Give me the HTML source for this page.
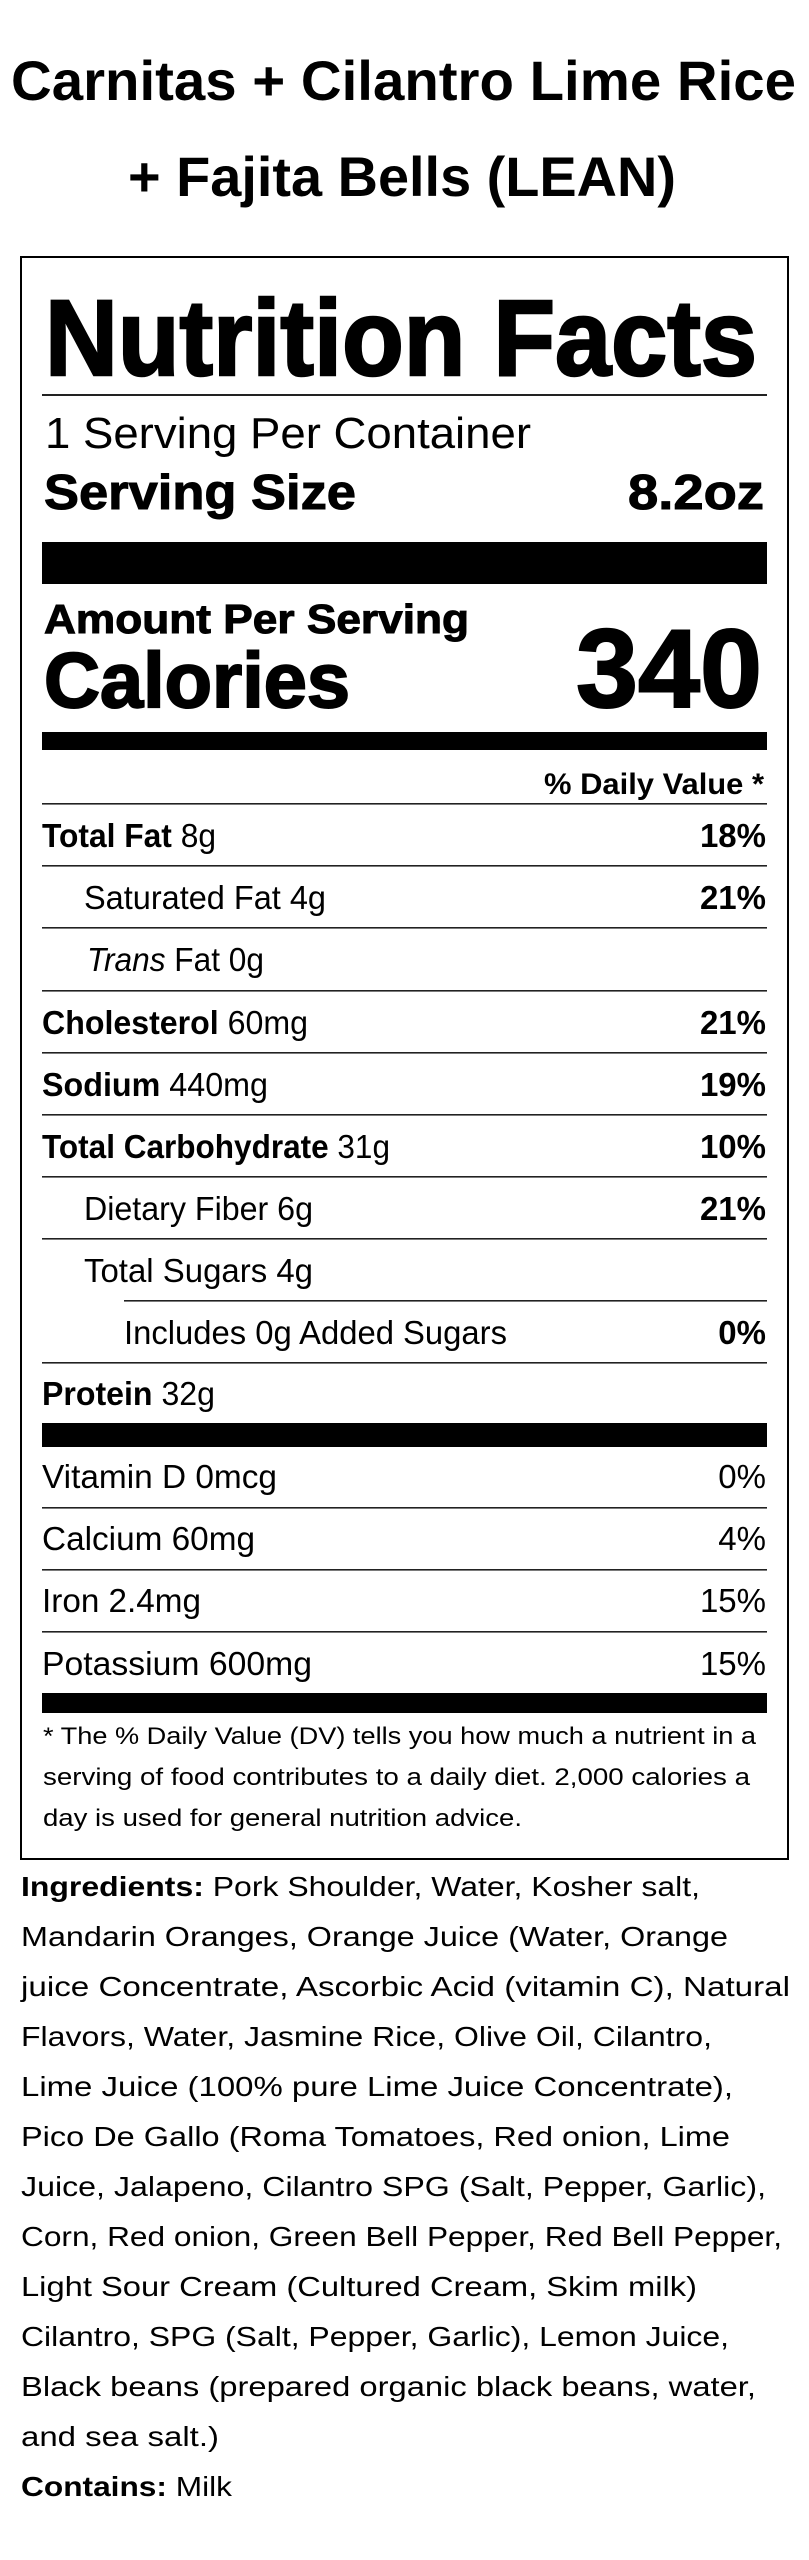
<!DOCTYPE html>
<html><head><meta charset="utf-8"><style>
html,body{margin:0;padding:0;background:#fff;}
svg{display:block;}
text{font-family:"Liberation Sans",Arial,sans-serif;fill:#000;}
.b{font-weight:bold;}
</style></head><body>
<svg width="809" height="2560" viewBox="0 0 809 2560" xmlns="http://www.w3.org/2000/svg">
<rect x="0" y="0" width="809" height="2560" fill="#fff"/>
<!-- Title -->
<text x="11" y="100" font-size="56" class="b" textLength="785" lengthAdjust="spacingAndGlyphs">Carnitas + Cilantro Lime Rice</text>
<text x="128" y="196" font-size="56" class="b" textLength="548" lengthAdjust="spacingAndGlyphs">+ Fajita Bells (LEAN)</text>
<!-- Box -->
<rect x="21" y="257" width="767" height="1602" fill="none" stroke="#000" stroke-width="2"/>
<text x="45" y="375" font-size="108" class="b" stroke="#000" stroke-width="2.5" textLength="712" lengthAdjust="spacingAndGlyphs">Nutrition Facts</text>
<rect x="42" y="394" width="725" height="2" fill="#222"/>
<text x="45" y="448" font-size="44" textLength="486" lengthAdjust="spacingAndGlyphs">1 Serving Per Container</text>
<text x="44" y="509" font-size="49" class="b" stroke="#000" stroke-width="1" textLength="312" lengthAdjust="spacingAndGlyphs">Serving Size</text>
<text x="764" y="509" font-size="49" class="b" stroke="#000" stroke-width="1" text-anchor="end" textLength="136" lengthAdjust="spacingAndGlyphs">8.2oz</text>
<rect x="42" y="542" width="725" height="42" fill="#000"/>
<text x="44" y="633" font-size="41" class="b" stroke="#000" stroke-width="1" textLength="425" lengthAdjust="spacingAndGlyphs">Amount Per Serving</text>
<text x="44" y="707" font-size="78" class="b" stroke="#000" stroke-width="2" textLength="306" lengthAdjust="spacingAndGlyphs">Calories</text>
<text x="762" y="707" font-size="111" class="b" stroke="#000" stroke-width="2" text-anchor="end" textLength="186" lengthAdjust="spacingAndGlyphs">340</text>
<rect x="42" y="732" width="725" height="18" fill="#000"/>
<text x="764" y="794" font-size="30" class="b" text-anchor="end" textLength="220" lengthAdjust="spacingAndGlyphs">% Daily Value *</text>
<!-- row lines -->
<g fill="#222">
<rect x="42" y="803" width="725" height="1.6"/>
<rect x="42" y="865" width="725" height="1.6"/>
<rect x="42" y="927" width="725" height="1.6"/>
<rect x="42" y="990" width="725" height="1.6"/>
<rect x="42" y="1052" width="725" height="1.6"/>
<rect x="42" y="1114" width="725" height="1.6"/>
<rect x="42" y="1176" width="725" height="1.6"/>
<rect x="42" y="1238" width="725" height="1.6"/>
<rect x="124" y="1300" width="643" height="1.6"/>
<rect x="42" y="1362" width="725" height="1.6"/>
<rect x="42" y="1423" width="725" height="24" fill="#000"/>
<rect x="42" y="1507" width="725" height="1.6"/>
<rect x="42" y="1569" width="725" height="1.6"/>
<rect x="42" y="1631" width="725" height="1.6"/>
<rect x="42" y="1693" width="725" height="20" fill="#000"/>
</g>
<g font-size="33">
<text x="42" y="847" textLength="174" lengthAdjust="spacingAndGlyphs"><tspan class="b">Total Fat</tspan> 8g</text>
<text x="766" y="847" class="b" text-anchor="end">18%</text>
<text x="84" y="909" textLength="242" lengthAdjust="spacingAndGlyphs">Saturated Fat 4g</text>
<text x="766" y="909" class="b" text-anchor="end">21%</text>
<text x="87" y="971" textLength="177" lengthAdjust="spacingAndGlyphs"><tspan font-style="italic">Trans</tspan> Fat 0g</text>
<text x="42" y="1034" textLength="266" lengthAdjust="spacingAndGlyphs"><tspan class="b">Cholesterol</tspan> 60mg</text>
<text x="766" y="1034" class="b" text-anchor="end">21%</text>
<text x="42" y="1096" textLength="226" lengthAdjust="spacingAndGlyphs"><tspan class="b">Sodium</tspan> 440mg</text>
<text x="766" y="1096" class="b" text-anchor="end">19%</text>
<text x="42" y="1158" textLength="348" lengthAdjust="spacingAndGlyphs"><tspan class="b">Total Carbohydrate</tspan> 31g</text>
<text x="766" y="1158" class="b" text-anchor="end">10%</text>
<text x="84" y="1220" textLength="229" lengthAdjust="spacingAndGlyphs">Dietary Fiber 6g</text>
<text x="766" y="1220" class="b" text-anchor="end">21%</text>
<text x="84" y="1282" textLength="229" lengthAdjust="spacingAndGlyphs">Total Sugars 4g</text>
<text x="124" y="1344" textLength="383" lengthAdjust="spacingAndGlyphs">Includes 0g Added Sugars</text>
<text x="766" y="1344" class="b" text-anchor="end">0%</text>
<text x="42" y="1405" textLength="173" lengthAdjust="spacingAndGlyphs"><tspan class="b">Protein</tspan> 32g</text>
<text x="42" y="1488" textLength="235" lengthAdjust="spacingAndGlyphs">Vitamin D 0mcg</text>
<text x="766" y="1488" text-anchor="end">0%</text>
<text x="42" y="1550" textLength="213" lengthAdjust="spacingAndGlyphs">Calcium 60mg</text>
<text x="766" y="1550" text-anchor="end">4%</text>
<text x="42" y="1612" textLength="159" lengthAdjust="spacingAndGlyphs">Iron 2.4mg</text>
<text x="766" y="1612" text-anchor="end">15%</text>
<text x="42" y="1675" textLength="270" lengthAdjust="spacingAndGlyphs">Potassium 600mg</text>
<text x="766" y="1675" text-anchor="end">15%</text>
</g>
<g font-size="24">
<text x="43" y="1744" textLength="713" lengthAdjust="spacingAndGlyphs">* The % Daily Value (DV) tells you how much a nutrient in a</text>
<text x="43" y="1785" textLength="707" lengthAdjust="spacingAndGlyphs">serving of food contributes to a daily diet. 2,000 calories a</text>
<text x="43" y="1826" textLength="479" lengthAdjust="spacingAndGlyphs">day is used for general nutrition advice.</text>
</g>
<g font-size="28">
<text x="21" y="1896" textLength="679" lengthAdjust="spacingAndGlyphs"><tspan class="b">Ingredients:</tspan> Pork Shoulder, Water, Kosher salt,</text>
<text x="21" y="1946" textLength="707" lengthAdjust="spacingAndGlyphs">Mandarin Oranges, Orange Juice (Water, Orange</text>
<text x="21" y="1996" textLength="769" lengthAdjust="spacingAndGlyphs">juice Concentrate, Ascorbic Acid (vitamin C), Natural</text>
<text x="21" y="2046" textLength="691" lengthAdjust="spacingAndGlyphs">Flavors, Water, Jasmine Rice, Olive Oil, Cilantro,</text>
<text x="21" y="2096" textLength="712" lengthAdjust="spacingAndGlyphs">Lime Juice (100% pure Lime Juice Concentrate),</text>
<text x="21" y="2146" textLength="709" lengthAdjust="spacingAndGlyphs">Pico De Gallo (Roma Tomatoes, Red onion, Lime</text>
<text x="21" y="2196" textLength="745" lengthAdjust="spacingAndGlyphs">Juice, Jalapeno, Cilantro SPG (Salt, Pepper, Garlic),</text>
<text x="21" y="2246" textLength="761" lengthAdjust="spacingAndGlyphs">Corn, Red onion, Green Bell Pepper, Red Bell Pepper,</text>
<text x="21" y="2296" textLength="676" lengthAdjust="spacingAndGlyphs">Light Sour Cream (Cultured Cream, Skim milk)</text>
<text x="21" y="2346" textLength="708" lengthAdjust="spacingAndGlyphs">Cilantro, SPG (Salt, Pepper, Garlic), Lemon Juice,</text>
<text x="21" y="2396" textLength="735" lengthAdjust="spacingAndGlyphs">Black beans (prepared organic black beans, water,</text>
<text x="21" y="2446" textLength="198" lengthAdjust="spacingAndGlyphs">and sea salt.)</text>
<text x="21" y="2496" textLength="211" lengthAdjust="spacingAndGlyphs"><tspan class="b">Contains:</tspan> Milk</text>
</g>
</svg>
</body></html>
